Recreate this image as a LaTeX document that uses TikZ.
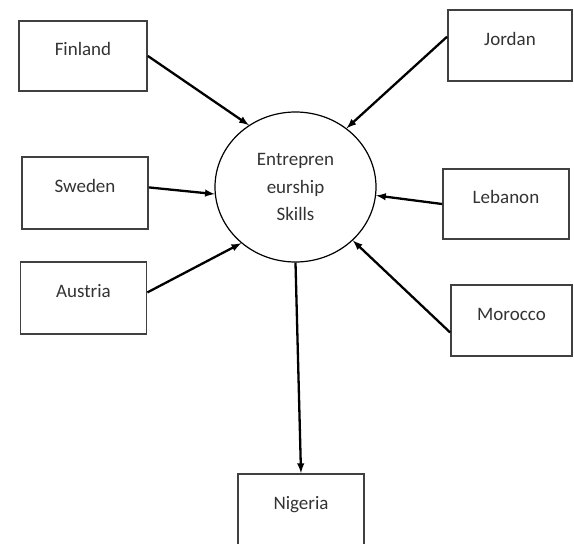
\documentclass[tikz,border=0pt]{standalone}
\usepackage{fontspec}
\setmainfont{Carlito}
\usetikzlibrary{shapes.geometric}

\begin{document}
\begin{tikzpicture}[x=1pt,y=-1pt,
  c/.style={draw=black!75,line width=1.8pt,minimum width=126pt,minimum height=71pt,text height=13pt,text depth=14pt,font=\fontsize{19}{23}\selectfont,text=black!80},
  e/.style={ellipse,draw,line width=1.2pt,minimum width=161pt,minimum height=150pt,align=center,font=\fontsize{19}{27.5}\selectfont,text=black!80},
  a/.style={->,>=latex,line width=2.3pt}]
\useasboundingbox (0,0) rectangle (574,544);

\node[e] (ent) at (295.5,187) {Entrepren\\eurship\\Skills};

\node[c,minimum width=128pt,minimum height=70pt] (fin) at (83,56) {Finland};
\node[c,minimum width=124pt] (jor) at (510,45.5) {Jordan};
\node[c,minimum height=72pt] (swe) at (85,193) {Sweden};
\node[c,minimum height=72pt] (aus) at (83.5,298) {Austria};
\node[c,minimum height=70pt] (leb) at (506,204) {Lebanon};
\node[c,minimum width=121pt] (mor) at (511.5,320.5) {Morocco};
\node[c] (nig) at (301,509.5) {Nigeria};

\draw[a] (fin.east) -- (ent.127);
\draw[a] (jor.172) -- (ent.49);
\draw[a] (swe.5) -- (ent.185);
\draw[a] (aus.5) -- (ent.226);
\draw[a] (leb.west) -- (ent.354);
\draw[a] (mor.191) -- (ent.317);
\draw[a] (ent.270) -- (nig.north);
\end{tikzpicture}
\end{document}
